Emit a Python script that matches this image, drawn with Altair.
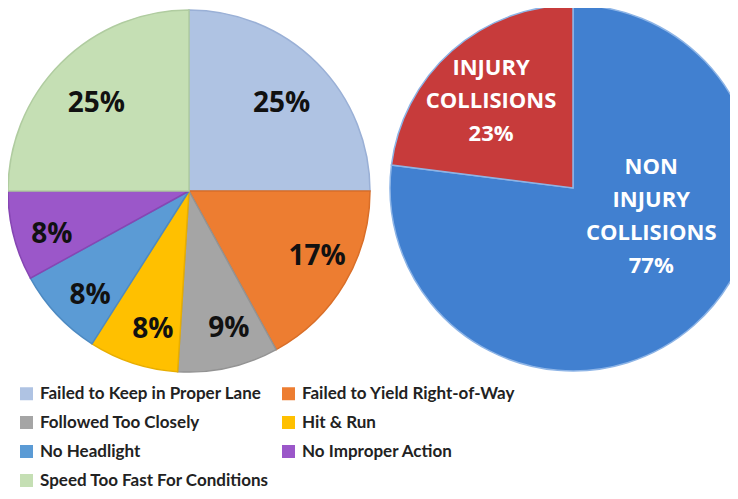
import altair as alt
import pandas as pd

# Left pie: contributing causes
causes = [
    "Failed to Keep in Proper Lane",
    "Failed to Yield Right-of-Way",
    "Followed Too Closely",
    "Hit & Run",
    "No Headlight",
    "No Improper Action",
    "Speed Too Fast For Conditions",
]
cause_pct = [25, 17, 9, 8, 8, 8, 25]
cause_colors = ["#AFC3E3", "#ED7D31", "#A5A5A5", "#FFC000", "#5B9BD5", "#9B57C9", "#C5DFB4"]
cause_edges = ["#9AB0D6", "#D96E28", "#939393", "#E8AE00", "#4D8AC2", "#8646B3", "#B0CCA0"]

# Right pie: collision severity
severity = ["NON INJURY COLLISIONS", "INJURY COLLISIONS"]
severity_pct = [77, 23]
severity_labels = ["NON\nINJURY\nCOLLISIONS\n77%", "INJURY\nCOLLISIONS\n23%"]
severity_colors = ["#4180D0", "#C73B3B"]

left = pd.DataFrame({
    "cause": causes,
    "pct": cause_pct,
    "ord": list(range(len(causes))),
    "label": [f"{p}%" for p in cause_pct],
})
right = pd.DataFrame({
    "sev": severity,
    "pct": severity_pct,
    "ord": list(range(len(severity))),
    "label": severity_labels,
    "col": severity_colors,
})

LEG_FONT = "Lato"
LX, LY, LR = 181, 183, 181
RX, RY, RR = 565, 180, 183

theta = alt.Theta("pct:Q", stack=True, scale=alt.Scale(domain=[0, 100]))

left_arc = alt.Chart(left).mark_arc(strokeWidth=1.5).encode(
    theta=theta,
    order=alt.Order("ord:Q"),
    x=alt.value(LX), y=alt.value(LY), radius=alt.value(LR),
    color=alt.Color(
        "cause:N",
        sort=causes,
        scale=alt.Scale(domain=causes, range=cause_colors),
        legend=alt.Legend(
            title=None, orient="none", legendX=10, legendY=377,
            direction="horizontal", columns=2, columnPadding=11, rowPadding=11,
            symbolType="square", symbolSize=169, symbolStrokeWidth=0,
            labelFont=LEG_FONT, labelFontSize=17, labelFontWeight="bold",
            labelColor="#222222", labelOffset=5, labelLimit=400,
        ),
    ),
    stroke=alt.Stroke("cause:N", scale=alt.Scale(domain=causes, range=cause_edges), legend=None),
)

def left_labels(cond, radius, offset, dy):
    return alt.Chart(left).transform_calculate(
        show=f"({cond}) ? datum.label : ''"
    ).mark_text(
        radius=radius, thetaOffset=offset, dy=dy,
        font="Open Sans", fontSize=28, fontWeight="bold", color="#111111"
    ).encode(
        theta=theta, order=alt.Order("ord:Q"),
        x=alt.value(LX), y=alt.value(LY), text="show:N",
    )

left_text_big = left_labels("datum.pct >= 20", 131, 0.0, 6)
left_text_small = left_labels("datum.pct < 20", 144, -0.06, 0)

right_arc = alt.Chart(right).mark_arc(stroke="#8DB4E6", strokeWidth=1.5).encode(
    theta=theta, order=alt.Order("ord:Q"),
    x=alt.value(RX), y=alt.value(RY), radius=alt.value(RR),
    fill=alt.Fill("col:N", scale=None),
)

right_text_non = alt.Chart(right).transform_calculate(
    show="datum.ord == 0 ? datum.label : ''"
).mark_text(
    radius=81, thetaOffset=-1.11, lineBreak="\n", lineHeight=33,
    font="Open Sans", fontSize=22, fontWeight="bold", color="white"
).encode(
    theta=theta, order=alt.Order("ord:Q"),
    x=alt.value(RX), y=alt.value(RY), text="show:N",
)

right_text_inj = alt.Chart(right).transform_calculate(
    show="datum.ord == 1 ? datum.label : ''"
).mark_text(
    radius=145, thetaOffset=0.122, lineBreak="\n", lineHeight=33,
    font="Open Sans", fontSize=22, fontWeight="bold", color="white"
).encode(
    theta=theta, order=alt.Order("ord:Q"),
    x=alt.value(RX), y=alt.value(RY), text="show:N",
)

chart = alt.layer(
    left_arc, left_text_big, left_text_small, right_arc, right_text_non, right_text_inj
).resolve_scale(color="independent", fill="independent").properties(
    width=722, height=483, padding=0, autosize="none"
).configure_view(stroke=None)

chart.save("out.html", embed_options={"renderer": "svg", "actions": False})
